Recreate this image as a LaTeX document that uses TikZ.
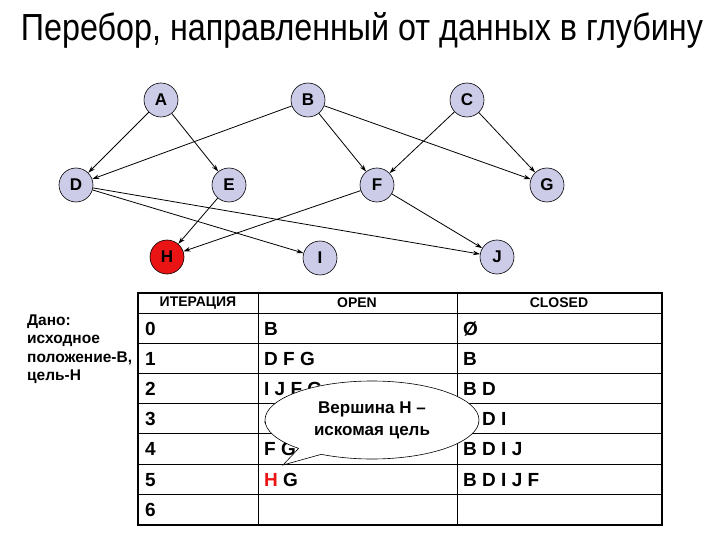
\documentclass[tikz,border=0pt]{standalone}
\usepackage{fontspec}
\setmainfont{Liberation Sans}
\usetikzlibrary{arrows.meta,shapes.callouts}
\definecolor{nodefill}{RGB}{204,204,232}
\definecolor{hred}{RGB}{235,20,20}
\tikzset{
  vtx/.style={circle, draw=black, line width=0.6pt, fill=nodefill, minimum size=34pt, inner sep=0pt, font=\fontsize{17}{17}\selectfont\bfseries},
  edge/.style={line width=0.8pt, -{Stealth[length=7pt,width=4.5pt]}},
  cell/.style={anchor=base west, inner sep=0pt, font=\fontsize{19}{19}\selectfont\bfseries},
  hdr/.style={inner sep=0pt, font=\fontsize{14}{14}\selectfont\bfseries},
  given/.style={anchor=base west, inner sep=0pt, font=\fontsize{15.5}{15.5}\selectfont\bfseries},
  thinrule/.style={line width=0.7pt},
  thickrule/.style={line width=1.6pt}
}
\begin{document}
\begin{tikzpicture}[x=1pt,y=-1pt]
\useasboundingbox (0,0) rectangle (720,540);
% title
\node[inner sep=0pt, anchor=base] (title) at (362,41) {\resizebox{682pt}{28pt}{\fontsize{38}{40}\selectfont Перебор, направленный от данных в глубину}};
% graph nodes
\node[vtx] (A) at (161,100) {A};
\node[vtx] (B) at (308,100) {B};
\node[vtx] (C) at (467,100) {C};
\node[vtx] (D) at (76,185) {D};
\node[vtx] (E) at (229,185) {E};
\node[vtx] (F) at (377,185) {F};
\node[vtx] (G) at (547,185) {G};
\node[vtx, fill=hred] (H) at (167,257) {H};
\node[vtx] (I) at (320,258) {I};
\node[vtx] (J) at (497,257) {J};
% edges
\draw[edge] (A) -- (D);
\draw[edge] (A) -- (E);
\draw[edge] (B) -- (D);
\draw[edge] (B) -- (F);
\draw[edge] (B) -- (G);
\draw[edge] (C) -- (F);
\draw[edge] (C) -- (G);
\draw[edge] (D) -- (I);
\draw[edge] (D) -- (J);
\draw[edge] (E) -- (H);
\draw[edge] (F) -- (H);
\draw[edge] (F) -- (J);
% table
\foreach \yy in {313,343,373,403,433,464,494} {
  \draw[thinrule] (138,\yy) -- (662,\yy);
}
\draw[thinrule] (258,293) -- (258,525);
\draw[thinrule] (457,293) -- (457,525);
\draw[thickrule] (138,293) rectangle (662,525);
% header
\node[hdr] (h1) at (198,303) {ИТЕРАЦИЯ};
\node[hdr] (h2) at (357,303) {OPEN};
\node[hdr] (h3) at (559,303) {CLOSED};
% given text
\node[given] (g1) at (27,325) {Дано:};
\node[given] (g2) at (27,343) {исходное};
\node[given] (g3) at (27,362) {положение-В,};
\node[given] (g4) at (27,380) {цель-Н};
% rows
\node[cell] (n0) at (145,335) {0};
\node[cell] (n1) at (145,365) {1};
\node[cell] (n2) at (145,395) {2};
\node[cell] (n3) at (145,425) {3};
\node[cell] (n4) at (145,455) {4};
\node[cell] (n5) at (145,486) {5};
\node[cell] (n6) at (145,516) {6};
\node[cell] (o0) at (264,335) {B};
\node[cell] (o1) at (264,365) {D F G};
\node[cell] (o2) at (264,395) {I J F G};
\node[cell] (o3) at (264,425) {J F G};
\node[cell] (o4) at (264,455) {F G};
\node[cell] (o5) at (264,486) {\textcolor{hred}{H} G};
\node[cell] (c0) at (463,335) {Ø};
\node[cell] (c1) at (463,365) {B};
\node[cell] (c2) at (463,395) {B D};
\node[cell] (c3) at (463,425) {B D I};
\node[cell] (c4) at (463,455) {B D I J};
\node[cell] (c5) at (463,486) {B D I J F};
% callout
\node[ellipse callout, draw=black, line width=0.6pt, fill=white, minimum width=214pt, minimum height=78pt, inner sep=0pt,
  callout absolute pointer={(283,465)}, align=center, font=\fontsize{17}{22}\selectfont\bfseries] (call) at (372,420) {Вершина H –\\искомая цель};
\end{tikzpicture}
\end{document}
